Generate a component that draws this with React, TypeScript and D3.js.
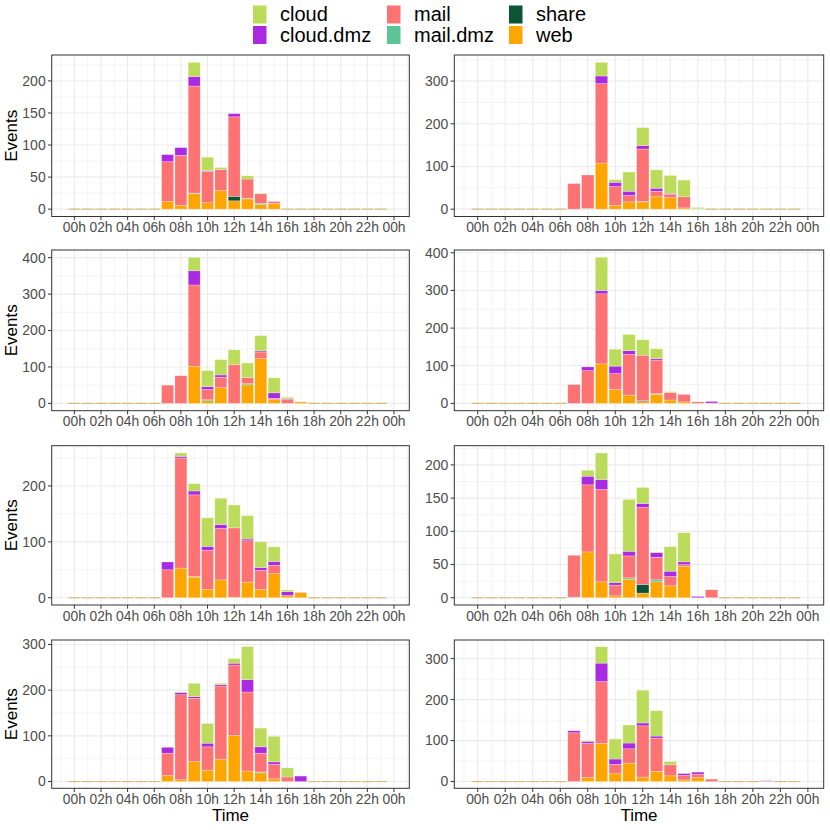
import * as d3 from "d3";
import { useEffect } from "react";

// services, bottom of the stack first
const services = ["web", "share", "mail.dmz", "mail", "cloud.dmz", "cloud"];
const legendOrder = ["cloud", "cloud.dmz", "mail", "mail.dmz", "share", "web"];
const serviceColors: Record<string, string> = {
  cloud: "#BBDB5B",
  "cloud.dmz": "#AA2AE2",
  mail: "#FD7272",
  "mail.dmz": "#5CC593",
  share: "#0B5535",
  web: "#FFA500",
};

const hours = [0, 1, 2, 3, 4, 5, 6, 7, 8, 9, 10, 11, 12, 13, 14, 15, 16, 17, 18, 19, 20, 21, 22, 23];
const xTickHours = [0, 2, 4, 6, 8, 10, 12, 14, 16, 18, 20, 22, 24];
const xTickLabels = ["00h", "02h", "04h", "06h", "08h", "10h", "12h", "14h", "16h", "18h", "20h", "22h", "00h"];

// one row per panel (8 panels), one value per hour
const web = [
  [0, 0, 0, 0, 0, 0, 0, 12, 6, 24, 10, 29, 13, 16, 7, 9, 0, 0, 0, 0, 0, 0, 0, 0],
  [0, 0, 0, 0, 0, 0, 0, 0, 0, 108, 9, 17, 17, 29, 27, 3, 0, 0, 0, 0, 0, 0, 0, 0],
  [0, 0, 0, 0, 0, 0, 0, 0, 0, 102, 7, 43, 0, 51, 123, 10, 0, 4, 0, 0, 0, 0, 0, 0],
  [0, 0, 0, 0, 0, 0, 0, 0, 0, 105, 37, 22, 5, 24, 9, 4, 0, 0, 0, 0, 0, 0, 0, 0],
  [0, 0, 0, 0, 0, 0, 0, 0, 53, 37, 15, 32, 1, 28, 15, 43, 4, 9, 0, 0, 0, 0, 0, 0],
  [0, 0, 0, 0, 0, 0, 0, 0, 69, 24, 3, 28, 7, 24, 18, 47, 0, 0, 0, 0, 0, 0, 0, 0],
  [0, 0, 0, 0, 0, 0, 0, 13, 4, 44, 25, 49, 101, 23, 19, 6, 0, 0, 0, 0, 0, 0, 0, 0],
  [0, 0, 0, 0, 0, 0, 0, 0, 10, 93, 19, 45, 11, 25, 14, 4, 10, 0, 0, 0, 0, 0, 0, 0],
];
const share = [
  [0, 0, 0, 0, 0, 0, 0, 0, 0, 0, 0, 0, 7, 0, 0, 0, 0, 0, 0, 0, 0, 0, 0, 0],
  [0, 0, 0, 0, 0, 0, 0, 0, 0, 0, 0, 0, 0, 0, 0, 0, 0, 0, 0, 0, 0, 0, 0, 0],
  [0, 0, 0, 0, 0, 0, 0, 0, 0, 0, 0, 0, 0, 0, 0, 0, 0, 0, 0, 0, 0, 0, 0, 0],
  [0, 0, 0, 0, 0, 0, 0, 0, 0, 0, 0, 0, 2, 0, 0, 0, 0, 0, 0, 0, 0, 0, 0, 0],
  [0, 0, 0, 0, 0, 0, 0, 0, 0, 0, 0, 0, 0, 0, 0, 0, 0, 0, 0, 0, 0, 0, 0, 0],
  [0, 0, 0, 0, 0, 0, 0, 0, 0, 0, 0, 0, 13, 0, 0, 0, 0, 0, 0, 0, 0, 0, 0, 0],
  [0, 0, 0, 0, 0, 0, 0, 0, 0, 0, 0, 0, 0, 0, 0, 0, 0, 0, 0, 0, 0, 0, 0, 0],
  [0, 0, 0, 0, 0, 0, 0, 0, 0, 0, 0, 0, 0, 0, 0, 0, 0, 0, 0, 0, 0, 0, 0, 0],
];
const mailDmz = [
  [0, 0, 0, 0, 0, 0, 0, 0, 0, 1, 0, 0, 0, 1, 2, 0, 0, 0, 0, 0, 0, 0, 0, 0],
  [0, 0, 0, 0, 0, 0, 0, 0, 2, 0, 0, 0, 1, 0, 0, 0, 1, 0, 0, 0, 0, 0, 0, 0],
  [0, 0, 0, 0, 0, 0, 0, 0, 0, 0, 3, 0, 0, 3, 0, 0, 0, 0, 0, 0, 0, 0, 0, 0],
  [0, 0, 0, 0, 0, 0, 0, 0, 0, 0, 0, 0, 0, 2, 0, 0, 0, 0, 0, 0, 0, 0, 0, 0],
  [0, 0, 0, 0, 0, 0, 0, 0, 0, 1, 0, 0, 0, 0, 0, 0, 0, 0, 0, 0, 0, 0, 0, 0],
  [0, 0, 0, 0, 0, 0, 0, 1, 0, 0, 0, 2, 0, 3, 0, 0, 0, 0, 0, 0, 0, 0, 0, 0],
  [0, 0, 0, 0, 0, 0, 0, 0, 0, 0, 0, 0, 0, 0, 2, 0, 0, 0, 0, 0, 0, 0, 0, 0],
  [0, 0, 0, 0, 0, 0, 0, 0, 0, 0, 0, 0, 0, 0, 0, 0, 0, 0, 0, 0, 0, 0, 0, 0],
];
const mail = [
  [0, 0, 0, 0, 0, 0, 0, 62, 78, 167, 49, 33, 124, 30, 15, 3, 0, 0, 0, 0, 0, 0, 0, 0],
  [0, 0, 0, 0, 0, 0, 0, 60, 78, 186, 44, 15, 123, 13, 8, 26, 0, 0, 0, 0, 0, 0, 0, 0],
  [0, 0, 0, 0, 0, 0, 0, 50, 76, 223, 28, 29, 106, 17, 18, 4, 11, 0, 0, 0, 0, 0, 0, 0],
  [0, 0, 0, 0, 0, 0, 0, 50, 87, 186, 42, 108, 121, 89, 20, 20, 4, 1, 0, 0, 0, 0, 0, 0],
  [0, 0, 0, 0, 0, 0, 0, 50, 197, 146, 70, 92, 124, 74, 34, 15, 0, 1, 0, 0, 0, 0, 0, 0],
  [0, 0, 0, 0, 0, 0, 0, 63, 101, 139, 16, 33, 116, 34, 14, 3, 0, 12, 0, 0, 0, 0, 0, 0],
  [0, 0, 0, 0, 0, 0, 0, 49, 186, 138, 51, 160, 154, 173, 41, 32, 10, 0, 0, 0, 0, 0, 0, 0],
  [0, 0, 0, 0, 0, 0, 0, 119, 83, 151, 23, 35, 125, 81, 27, 11, 8, 6, 0, 0, 0, 1, 0, 0],
];
const cloudDmz = [
  [0, 0, 0, 0, 0, 0, 0, 11, 12, 15, 1, 0, 5, 0, 0, 0, 0, 0, 0, 0, 0, 0, 0, 0],
  [0, 0, 0, 0, 0, 0, 0, 0, 0, 18, 10, 10, 8, 7, 2, 0, 0, 0, 0, 0, 0, 0, 0, 0],
  [0, 0, 0, 0, 0, 0, 0, 0, 0, 39, 8, 6, 0, 0, 3, 15, 2, 0, 0, 0, 0, 0, 0, 0],
  [0, 0, 0, 0, 0, 0, 0, 0, 10, 9, 20, 10, 0, 4, 0, 0, 0, 4, 0, 0, 0, 0, 0, 0],
  [0, 0, 0, 0, 0, 0, 0, 14, 3, 7, 7, 7, 0, 3, 5, 7, 7, 0, 0, 0, 0, 0, 0, 0],
  [0, 0, 0, 0, 0, 0, 0, 0, 13, 15, 4, 7, 6, 7, 8, 4, 2, 0, 0, 0, 0, 0, 0, 0],
  [0, 0, 0, 0, 0, 0, 0, 13, 5, 4, 8, 3, 4, 27, 14, 5, 0, 12, 0, 0, 0, 0, 0, 0],
  [0, 0, 0, 0, 0, 0, 0, 5, 5, 45, 13, 14, 7, 5, 0, 5, 5, 0, 0, 0, 0, 1, 0, 0],
];
const cloud = [
  [0, 0, 0, 0, 0, 0, 0, 0, 0, 22, 21, 3, 0, 5, 1, 0, 0, 0, 0, 0, 0, 0, 0, 0],
  [0, 0, 0, 0, 0, 0, 0, 0, 0, 32, 6, 45, 42, 43, 42, 39, 3, 0, 0, 0, 0, 0, 0, 0],
  [0, 0, 0, 0, 0, 0, 0, 0, 0, 37, 44, 42, 41, 40, 42, 41, 4, 0, 0, 0, 0, 0, 0, 0],
  [0, 0, 0, 0, 0, 0, 0, 0, 0, 88, 45, 43, 41, 26, 2, 0, 0, 0, 0, 0, 0, 0, 0, 0],
  [0, 0, 0, 0, 0, 0, 0, 0, 6, 13, 51, 47, 41, 42, 46, 26, 3, 0, 0, 0, 0, 0, 0, 0],
  [0, 0, 0, 0, 0, 0, 0, 0, 9, 40, 43, 78, 24, 1, 37, 44, 0, 0, 0, 0, 0, 0, 0, 0],
  [0, 0, 0, 0, 0, 0, 0, 0, 1, 29, 43, 3, 10, 72, 41, 56, 20, 0, 0, 0, 0, 0, 0, 0],
  [0, 0, 0, 0, 0, 0, 0, 0, 2, 40, 49, 44, 80, 62, 8, 1, 0, 0, 0, 0, 0, 0, 0, 0],
];
const yTicks = [
  [0, 50, 100, 150, 200],
  [0, 100, 200, 300],
  [0, 100, 200, 300, 400],
  [0, 100, 200, 300, 400],
  [0, 100, 200],
  [0, 50, 100, 150, 200],
  [0, 100, 200, 300],
  [0, 100, 200, 300],
];

const seriesByService: Record<string, number[][]> = {
  web,
  share,
  "mail.dmz": mailDmz,
  mail,
  "cloud.dmz": cloudDmz,
  cloud,
};

// panel frames measured off the layout
const cols = [
  { x0: 51.7, x1: 409.3 },
  { x0: 454.3, x1: 823.7 },
];
const rows = [
  { y0: 55, y1: 216.5 },
  { y0: 250, y1: 410.7 },
  { y0: 445.7, y1: 605 },
  { y0: 640, y1: 788.3 },
];

const FONT = "'Liberation Sans', Arial, Helvetica, sans-serif";
const GRID = "#EBEBEB";
const AXIS_TEXT = "#4D4D4D";

function Panel({ index }: { index: number }) {
  const col = cols[index % 2];
  const row = rows[Math.floor(index / 2)];
  const isLeft = index % 2 === 0;
  const isBottom = Math.floor(index / 2) === rows.length - 1;

  const table = hours.map((h, i) => {
    const d: Record<string, number> = { hour: h };
    services.forEach((s) => (d[s] = seriesByService[s][index][i]));
    return d;
  });
  const stacked = d3.stack<Record<string, number>>().keys(services)(table);
  const maxTotal = d3.max(table, (d) => d3.sum(services, (s) => d[s])) ?? 1;

  const x = d3.scaleLinear().domain([-1.7, 25.15]).range([col.x0, col.x1]);
  const y = d3
    .scaleLinear()
    .domain([-0.05 * maxTotal, 1.05 * maxTotal])
    .range([row.y1, row.y0]);

  const ticks = yTicks[index];
  const step = ticks[1] - ticks[0];
  const yMinor = ticks
    .map((t) => t + step / 2)
    .filter((v) => v <= y.domain()[1]);
  const xMinor = d3.range(-1, 26, 2).filter((v) => v >= x.domain()[0] && v <= x.domain()[1]);
  const barHalf = 0.45;

  return (
    <g>
      <rect x={col.x0} y={row.y0} width={col.x1 - col.x0} height={row.y1 - row.y0} fill="white" />
      {xMinor.map((v) => (
        <line key={"xm" + v} x1={x(v)} x2={x(v)} y1={row.y0} y2={row.y1} stroke={GRID} strokeWidth={0.55} />
      ))}
      {yMinor.map((v) => (
        <line key={"ym" + v} x1={col.x0} x2={col.x1} y1={y(v)} y2={y(v)} stroke={GRID} strokeWidth={0.55} />
      ))}
      {xTickHours.map((v) => (
        <line key={"xg" + v} x1={x(v)} x2={x(v)} y1={row.y0} y2={row.y1} stroke={GRID} strokeWidth={1.1} />
      ))}
      {ticks.map((v) => (
        <line key={"yg" + v} x1={col.x0} x2={col.x1} y1={y(v)} y2={y(v)} stroke={GRID} strokeWidth={1.1} />
      ))}

      {/* empty hours show as a flat line on the baseline */}
      {table
        .filter((d) => d3.sum(services, (s) => d[s]) === 0)
        .map((d) => (
          <line
            key={"z" + d.hour}
            x1={x(d.hour - barHalf)}
            x2={x(d.hour + barHalf)}
            y1={y(0)}
            y2={y(0)}
            stroke="#D6BC78"
            strokeWidth={1.2}
          />
        ))}

      {stacked.map((layer) => (
        <g key={layer.key} fill={serviceColors[layer.key]}>
          {layer
            .filter((seg) => seg[1] - seg[0] > 0)
            .map((seg) => (
              <rect
                key={seg.data.hour}
                x={x(seg.data.hour - barHalf)}
                width={x(seg.data.hour + barHalf) - x(seg.data.hour - barHalf)}
                y={y(seg[1])}
                height={y(seg[0]) - y(seg[1])}
                stroke="white"
                strokeOpacity={0.45}
                strokeWidth={0.6}
              />
            ))}
        </g>
      ))}

      <rect
        x={col.x0}
        y={row.y0}
        width={col.x1 - col.x0}
        height={row.y1 - row.y0}
        fill="none"
        stroke="#333333"
        strokeWidth={1}
      />

      {ticks.map((v) => (
        <g key={"yt" + v}>
          <line x1={col.x0 - 3.7} x2={col.x0} y1={y(v)} y2={y(v)} stroke="#333333" strokeWidth={1} />
          <text
            x={col.x0 - 6}
            y={y(v)}
            dy="0.35em"
            textAnchor="end"
            fontSize={14}
            fill={AXIS_TEXT}
            fontFamily={FONT}
          >
            {v}
          </text>
        </g>
      ))}
      {xTickHours.map((v, i) => (
        <g key={"xt" + v}>
          <line x1={x(v)} x2={x(v)} y1={row.y1} y2={row.y1 + 3.7} stroke="#333333" strokeWidth={1} />
          <text
            x={x(v)}
            y={row.y1 + 15.5}
            textAnchor="middle"
            fontSize={13.8}
            fill={AXIS_TEXT}
            fontFamily={FONT}
          >
            {xTickLabels[i]}
          </text>
        </g>
      ))}

      {isLeft && (
        <text
          transform={`translate(17,${(row.y0 + row.y1) / 2}) rotate(-90)`}
          textAnchor="middle"
          fontSize={17}
          fill="black"
          fontFamily={FONT}
        >
          Events
        </text>
      )}
      {isBottom && (
        <text
          x={(col.x0 + col.x1) / 2}
          y={821}
          textAnchor="middle"
          fontSize={17}
          fill="black"
          fontFamily={FONT}
        >
          Time
        </text>
      )}
    </g>
  );
}

function Legend() {
  const colX = [253, 387, 509];
  return (
    <g fontFamily={FONT} fontSize={20}>
      {legendOrder.map((s, i) => {
        const cx = colX[Math.floor(i / 2)];
        const ky = i % 2 === 0 ? 5.5 : 26;
        return (
          <g key={s}>
            <rect x={cx} y={ky} width={13.5} height={18} fill={serviceColors[s]} />
            <text x={cx + 27} y={ky + 15.5} fill="black">
              {s}
            </text>
          </g>
        );
      })}
    </g>
  );
}

export default function App() {
  useEffect(() => {
    document.body.style.margin = "0";
  }, []);

  return (
    <div style={{ position: "absolute", left: 0, top: 0, width: 830, height: 830, background: "white" }}>
      <svg width={830} height={830} style={{ display: "block" }}>
        <rect width={830} height={830} fill="white" />
        <Legend />
        {[0, 1, 2, 3, 4, 5, 6, 7].map((i) => (
          <Panel key={i} index={i} />
        ))}
      </svg>
    </div>
  );
}
